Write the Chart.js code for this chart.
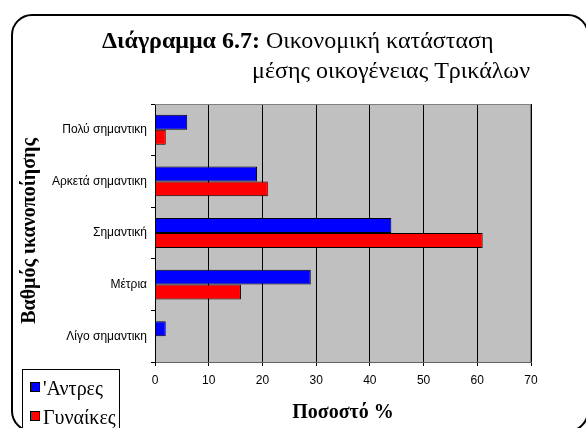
<!DOCTYPE html>
<html>
<head>
<meta charset="utf-8">
<script src="https://cdn.jsdelivr.net/npm/chart.js@4/dist/chart.umd.min.js"></script>
<style>
  html, body { margin: 0; padding: 0; background: #ffffff; }
  #wrap { position: relative; width: 586px; height: 428px; overflow: hidden; }
  canvas { display: block; }
</style>
</head>
<body>
<div id="wrap"><canvas id="c" width="586" height="428"></canvas></div>
<script>
// ---- data ----
const categories = ['Πολύ σημαντικη', 'Αρκετά σημαντικη', 'Σημαντική', 'Μέτρια', 'Λίγο σημαντικη'];
const menValues = [6, 19, 44, 29, 2];
const womenValues = [2, 21, 61, 16, 0];
const seriesNames = ["'Αντρες", 'Γυναίκες'];
const seriesColors = ['#0000ff', '#ff0000'];
const xTickValues = [0, 10, 20, 30, 40, 50, 60, 70];
const titleBold = 'Διάγραμμα 6.7:';
const titleRest = ' Οικονομική κατάσταση';
const titleLine2 = 'μέσης οικογένειας Τρικάλων';
const yTitle = 'Βαθμός ικανοποίησης';
const xTitle = 'Ποσοστό %';

const SERIF = '"Liberation Serif", "DejaVu Serif", serif';
const SANS = '"Liberation Sans", Arial, sans-serif';

function roundRect(ctx, x, y, w, h, r) {
  ctx.beginPath();
  ctx.moveTo(x + r, y);
  ctx.lineTo(x + w - r, y);
  ctx.arcTo(x + w, y, x + w, y + r, r);
  ctx.lineTo(x + w, y + h - r);
  ctx.arcTo(x + w, y + h, x + w - r, y + h, r);
  ctx.lineTo(x + r, y + h);
  ctx.arcTo(x, y + h, x, y + h - r, r);
  ctx.lineTo(x, y + r);
  ctx.arcTo(x, y, x + r, y, r);
  ctx.closePath();
}

const decor = {
  id: 'decor',
  beforeDraw(chart) {
    const ctx = chart.ctx;
    const a = chart.chartArea;
    ctx.save();
    ctx.fillStyle = '#ffffff';
    ctx.fillRect(0, 0, chart.width, chart.height);
    // outer rounded frame
    ctx.lineWidth = 2;
    ctx.strokeStyle = '#000000';
    roundRect(ctx, 12, 15, 576, 416, 20);
    ctx.stroke();
    // plot background
    ctx.fillStyle = '#c0c0c0';
    ctx.fillRect(a.left, a.top, a.right - a.left, a.bottom - a.top);
    ctx.restore();
  },
  afterDatasetsDraw(chart) {
    const ctx = chart.ctx;
    const a = chart.chartArea;
    ctx.save();
    ctx.strokeStyle = '#808080';
    ctx.lineWidth = 1;
    ctx.beginPath();
    ctx.moveTo(a.left, a.top + 0.5);
    ctx.lineTo(a.right - 0.5, a.top + 0.5);
    ctx.lineTo(a.right - 0.5, a.bottom);
    ctx.stroke();
    ctx.restore();
  },
  afterDraw(chart) {
    const ctx = chart.ctx;
    const a = chart.chartArea;
    ctx.save();
    ctx.fillStyle = '#000000';
    ctx.textBaseline = 'alphabetic';
    // title line 1 (bold + normal)
    ctx.font = 'bold 24px ' + SERIF;
    ctx.textAlign = 'left';
    const bw = ctx.measureText(titleBold).width;
    ctx.fillText(titleBold, 102, 48);
    ctx.font = '24px ' + SERIF;
    ctx.fillText(titleRest, 102 + bw, 48);
    // title line 2
    ctx.textAlign = 'right';
    ctx.fillText(titleLine2, 530, 78);
    // y title
    ctx.save();
    ctx.translate(35, 231);
    ctx.rotate(-Math.PI / 2);
    ctx.textAlign = 'center';
    ctx.font = 'bold 20px ' + SERIF;
    ctx.fillText(yTitle, 0, 0);
    ctx.restore();
    // x title
    ctx.textAlign = 'center';
    ctx.font = 'bold 20px ' + SERIF;
    ctx.fillText(xTitle, (a.left + a.right) / 2, 418);
    // legend
    ctx.fillStyle = '#ffffff';
    ctx.fillRect(22, 369, 97, 70);
    ctx.strokeStyle = '#000000';
    ctx.lineWidth = 1;
    ctx.strokeRect(22.5, 369.5, 97, 70);
    const ds = chart.data.datasets;
    ds.forEach((d, i) => {
      const y = 382 + i * 29;
      ctx.fillStyle = d.backgroundColor;
      ctx.fillRect(30, y, 10, 10);
      ctx.strokeStyle = '#000000';
      ctx.strokeRect(30.5, y + 0.5, 9, 9);
      ctx.fillStyle = '#000000';
      ctx.textAlign = 'left';
      ctx.font = '20px ' + SERIF;
      ctx.fillText(d.label, 43, y + 13);
    });
    ctx.restore();
  }
};

new Chart(document.getElementById('c'), {
  type: 'bar',
  data: {
    labels: categories,
    datasets: [
      { label: seriesNames[0], data: menValues, backgroundColor: seriesColors[0], borderColor: '#000000', borderWidth: 1 },
      { label: seriesNames[1], data: womenValues, backgroundColor: seriesColors[1], borderColor: '#000000', borderWidth: 1 }
    ]
  },
  options: {
    indexAxis: 'y',
    responsive: false,
    animation: false,
    devicePixelRatio: 1,
    layout: { padding: { left: 0, top: 104, right: 55, bottom: 0 } },
    datasets: { bar: { categoryPercentage: 0.58, barPercentage: 1.0 } },
    plugins: { legend: { display: false }, tooltip: { enabled: false }, title: { display: false } },
    scales: {
      x: {
        type: 'linear',
        position: 'bottom',
        min: 0, max: 70,
        afterBuildTicks(s) { s.ticks = xTickValues.map(v => ({ value: v })); },
        afterFit(s) { s.height = 66; },
        ticks: { color: '#000000', font: { family: SANS, size: 12 }, padding: 7 },
        grid: { color: '#000000', lineWidth: 1, drawOnChartArea: true, drawTicks: true, tickLength: 4, tickColor: '#000000' },
        border: { display: true, color: '#606060', width: 1 }
      },
      y: {
        type: 'category',
        afterFit(s) { s.width = 155; },
        ticks: { color: '#000000', font: { family: SANS, size: 12 }, padding: 4 },
        grid: { drawOnChartArea: false, drawTicks: true, tickLength: 4, tickColor: '#000000', offset: true },
        border: { display: true, color: '#000000', width: 1 }
      }
    }
  },
  plugins: [decor]
});
</script>
</body>
</html>
